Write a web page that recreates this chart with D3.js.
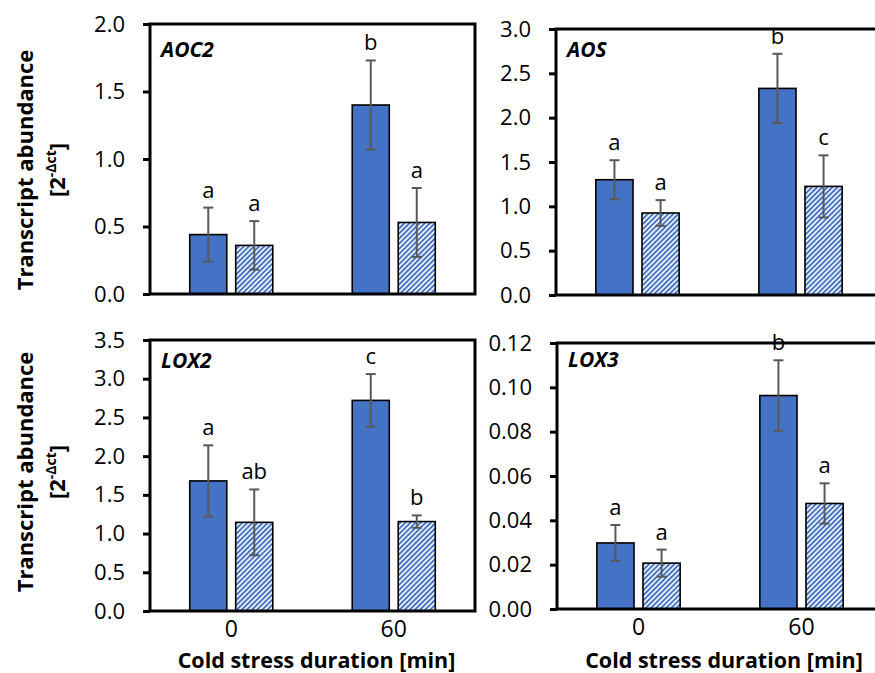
<!DOCTYPE html>
<html>
<head>
<meta charset="utf-8">
<script src="https://cdn.jsdelivr.net/npm/d3@7"></script>
<style>
  body { margin: 0; background: #fff; }
  text { font-family: "Open Sans", sans-serif; fill: #000; }
</style>
</head>
<body>
<svg id="chart" width="875" height="673"></svg>
<script>
// values (mean, error, significance letter)
var categories = ["0", "60"]

var aoc2Control = [0.44, 1.40]
var aoc2ControlErr = [0.20, 0.33]
var aoc2Treated = [0.36, 0.53]
var aoc2TreatedErr = [0.18, 0.255]
var aoc2ControlLetters = ["a", "b"]
var aoc2TreatedLetters = ["a", "a"]
var aoc2Ticks = [0, 0.5, 1.0, 1.5, 2.0]

var aosControl = [1.30, 2.33]
var aosControlErr = [0.22, 0.39]
var aosTreated = [0.925, 1.225]
var aosTreatedErr = [0.145, 0.35]
var aosControlLetters = ["a", "b"]
var aosTreatedLetters = ["a", "c"]
var aosTicks = [0, 0.5, 1.0, 1.5, 2.0, 2.5, 3.0]

var lox2Control = [1.68, 2.72]
var lox2ControlErr = [0.46, 0.34]
var lox2Treated = [1.145, 1.155]
var lox2TreatedErr = [0.425, 0.08]
var lox2ControlLetters = ["a", "c"]
var lox2TreatedLetters = ["ab", "b"]
var lox2Ticks = [0, 0.5, 1.0, 1.5, 2.0, 2.5, 3.0, 3.5]

var lox3Control = [0.0298, 0.0963]
var lox3ControlErr = [0.0081, 0.0159]
var lox3Treated = [0.0207, 0.0476]
var lox3TreatedErr = [0.0061, 0.0091]
var lox3ControlLetters = ["a", "b"]
var lox3TreatedLetters = ["a", "a"]
var lox3Ticks = [0, 0.02, 0.04, 0.06, 0.08, 0.10, 0.12]

var blue = "#4472C4"
var errColor = "#595959"

var svg = d3.select("#chart")

// hatch for the second series
svg.append("defs")
    .append("pattern")
    .attr("id", "hatch")
    .attr("patternUnits", "userSpaceOnUse")
    .attr("width", 3.6)
    .attr("height", 3.6)
    .attr("patternTransform", "rotate(45)")
    .call(p => {
        p.append("rect").attr("width", 3.6).attr("height", 3.6).attr("fill", "#fff")
        p.append("rect").attr("width", 2.0).attr("height", 3.6).attr("fill", blue)
    })

var panels = [
    {gene: "AOC2", control: aoc2Control, controlErr: aoc2ControlErr, treated: aoc2Treated, treatedErr: aoc2TreatedErr,
     cl: aoc2ControlLetters, tl: aoc2TreatedLetters, ticks: aoc2Ticks, fmt: ".1f",
     left: 150, right: 475, top: 24, bottom: 294, geneY: 57, xAxis: false},
    {gene: "AOS", control: aosControl, controlErr: aosControlErr, treated: aosTreated, treatedErr: aosTreatedErr,
     cl: aosControlLetters, tl: aosTreatedLetters, ticks: aosTicks, fmt: ".1f",
     left: 556, right: 882, top: 29, bottom: 295, geneY: 57, xAxis: false},
    {gene: "LOX2", control: lox2Control, controlErr: lox2ControlErr, treated: lox2Treated, treatedErr: lox2TreatedErr,
     cl: lox2ControlLetters, tl: lox2TreatedLetters, ticks: lox2Ticks, fmt: ".1f",
     left: 150, right: 475, top: 340, bottom: 611, geneY: 368, xAxis: true},
    {gene: "LOX3", control: lox3Control, controlErr: lox3ControlErr, treated: lox3Treated, treatedErr: lox3TreatedErr,
     cl: lox3ControlLetters, tl: lox3TreatedLetters, ticks: lox3Ticks, fmt: ".2f",
     left: 557, right: 883, top: 343, bottom: 609, geneY: 367, xAxis: true}
]

function drawPanel(p) {
    var g = svg.append("g")

    var y = d3.scaleLinear().domain([0, d3.max(p.ticks)]).range([p.bottom, p.top])
    var x0 = d3.scaleBand().domain(categories).range([p.left, p.right])
    var bw = x0.bandwidth() * 0.228
    var gap = x0.bandwidth() * 0.055

    var rows = []
    categories.forEach((c, i) => {
        rows.push({cat: c, v: p.control[i], e: p.controlErr[i], letter: p.cl[i], hatched: false, side: -1})
        rows.push({cat: c, v: p.treated[i], e: p.treatedErr[i], letter: p.tl[i], hatched: true, side: 1})
    })
    var cx = d => x0(d.cat) + x0.bandwidth() / 2 + d.side * (gap / 2 + bw / 2)

    g.append("g")
        .selectAll("rect")
        .data(rows)
        .enter()
        .append("rect")
        .attr("x", d => cx(d) - bw / 2)
        .attr("y", d => y(d.v))
        .attr("width", bw)
        .attr("height", d => y(0) - y(d.v))
        .attr("fill", d => d.hatched ? "url(#hatch)" : blue)
        .attr("stroke", "#000")
        .attr("stroke-width", 1.6)

    // error bars
    var err = g.append("g")
        .attr("stroke", errColor)
        .attr("stroke-width", 2)
        .selectAll("g")
        .data(rows)
        .enter()
        .append("g")
    err.append("line")
        .attr("x1", cx).attr("x2", cx)
        .attr("y1", d => y(d.v + d.e)).attr("y2", d => y(d.v - d.e))
    err.append("line")
        .attr("x1", d => cx(d) - 5).attr("x2", d => cx(d) + 5)
        .attr("y1", d => y(d.v + d.e)).attr("y2", d => y(d.v + d.e))
    err.append("line")
        .attr("x1", d => cx(d) - 5).attr("x2", d => cx(d) + 5)
        .attr("y1", d => y(d.v - d.e)).attr("y2", d => y(d.v - d.e))

    // letters
    g.append("g")
        .selectAll("text")
        .data(rows)
        .enter()
        .append("text")
        .attr("x", cx)
        .attr("y", d => y(d.v + d.e) - 10)
        .attr("text-anchor", "middle")
        .style("font-size", "22px")
        .text(d => d.letter)

    // frame
    g.append("rect")
        .attr("x", p.left)
        .attr("y", p.top)
        .attr("width", p.right - p.left)
        .attr("height", p.bottom - p.top)
        .attr("fill", "none")
        .attr("stroke", "#000")
        .attr("stroke-width", 3)

    var ax = g.append("g")
        .attr("transform", "translate(" + p.left + ",0)")
        .call(d3.axisLeft(y).tickValues(p.ticks).tickFormat(d3.format(p.fmt)).tickSize(7).tickPadding(18))
    ax.select(".domain").remove()
    ax.selectAll(".tick line").attr("stroke", "#000").attr("stroke-width", 3)
    ax.selectAll(".tick text").style("font-size", "22px").style("font-family", "'Open Sans', sans-serif").attr("fill", "#000")

    g.append("text")
        .attr("x", p.left + 11)
        .attr("y", p.geneY)
        .style("font-size", "21px")
        .style("font-weight", "bold")
        .style("font-style", "italic")
        .text(p.gene)

    if (p.xAxis) {
        var xa = g.append("g")
            .attr("transform", "translate(0," + p.bottom + ")")
            .call(d3.axisBottom(x0).tickSize(0).tickPadding(10))
        xa.select(".domain").remove()
        xa.selectAll(".tick text").style("font-size", "23px").style("font-family", "'Open Sans', sans-serif").attr("fill", "#000")

        g.append("text")
            .attr("x", (p.left + p.right) / 2 + 4)
            .attr("y", 668)
            .attr("text-anchor", "middle")
            .style("font-size", "21.5px")
            .style("font-weight", "bold")
            .text("Cold stress duration [min]")
    }
}

panels.forEach(drawPanel)

// y titles for each row
;[170, 472].forEach(cy => {
    svg.append("text")
        .attr("transform", "translate(33," + cy + ") rotate(-90)")
        .attr("text-anchor", "middle")
        .style("font-size", "22px")
        .style("font-weight", "bold")
        .text("Transcript abundance")
    var t = svg.append("text")
        .attr("transform", "translate(65," + cy + ") rotate(-90)")
        .attr("text-anchor", "middle")
        .style("font-size", "22px")
        .style("font-weight", "bold")
    t.append("tspan").text("[2")
    t.append("tspan").attr("dy", -9).style("font-size", "14px").text("-\u0394ct")
    t.append("tspan").attr("dy", 9).text("]")
})
</script>
</body>
</html>
